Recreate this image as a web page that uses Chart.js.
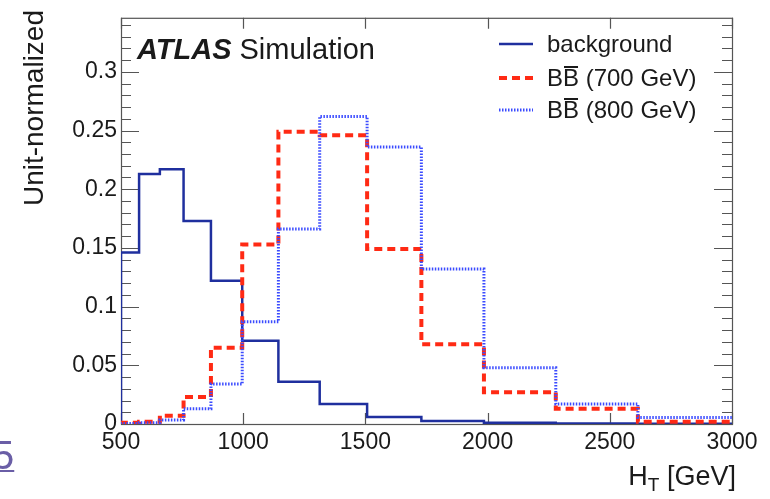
<!DOCTYPE html>
<html>
<head>
<meta charset="utf-8">
<script src="https://cdn.jsdelivr.net/npm/chart.js@4.4.1/dist/chart.umd.min.js"></script>
<style>
  html, body { margin: 0; padding: 0; background: #ffffff; }
  #wrap { position: relative; width: 770px; height: 499px; overflow: hidden; }
  #c { position: absolute; left: 0; top: 0; }
  #pg { position: absolute; left: -8px; top: 435px; font-family: "Liberation Sans", Arial, sans-serif;
        font-size: 40px; line-height: 40px; color: #6a5ea6; text-decoration: underline; text-decoration-thickness: 2px; }
</style>
</head>
<body>
<div id="wrap">
  <canvas id="c" width="770" height="499"></canvas>
  <div id="pg">5</div>
</div>
<script>
// ---- data ----
const binEdges   = [500, 574, 659, 756, 868, 996, 1144, 1313, 1507, 1729, 1985, 2279, 2615, 3000];
const background = [0.146, 0.213, 0.217, 0.173, 0.122, 0.071, 0.036, 0.017, 0.006, 0.0025, 0.001, 0.0005, 0.0002];
const bb700      = [0.001, 0.002, 0.007, 0.023, 0.065, 0.153, 0.249, 0.246, 0.149, 0.068, 0.027, 0.013, 0.002];
const bb800      = [0.0005, 0.001, 0.0035, 0.013, 0.034, 0.087, 0.166, 0.262, 0.236, 0.132, 0.048, 0.017, 0.0055];
const xTicks     = [500, 1000, 1500, 2000, 2500, 3000];
const yMajorStep = 0.05;
const yMinorStep = 0.01;
const seriesNames = ["background", "700 GeV", "800 GeV"];

const FONT = '"Liberation Sans", Arial, Helvetica, sans-serif';
const COL_BG = '#1f2f9e';
const COL_700 = '#ff2a14';
const COL_800 = '#3a4bff';

function histPoints(vals) {
  const pts = [{ x: binEdges[0], y: 0 }];
  vals.forEach((v, i) => pts.push({ x: binEdges[i], y: v }));
  pts.push({ x: binEdges[binEdges.length - 1], y: vals[vals.length - 1] });
  return pts;
}

const framePlugin = {
  id: 'frame',
  beforeDatasetsDraw(chart) {
    const { ctx, chartArea: a, scales } = chart;
    ctx.save();
    ctx.strokeStyle = '#555555';
    ctx.lineWidth = 1.2;
    const ys = scales.y;
    for (let k = 0; k * yMinorStep <= ys.max + 1e-9; k++) {
      const v = k * yMinorStep;
      const py = Math.round(ys.getPixelForValue(v)) + 0.5;
      const major = (k % Math.round(yMajorStep / yMinorStep)) === 0;
      const len = major ? 18 : 10;
      ctx.beginPath();
      ctx.moveTo(a.left, py); ctx.lineTo(a.left + len, py);
      ctx.moveTo(a.right, py); ctx.lineTo(a.right - len, py);
      ctx.stroke();
    }
    const xs = scales.x;
    xTicks.forEach(t => {
      const px = Math.round(xs.getPixelForValue(t)) + 0.5;
      ctx.beginPath();
      ctx.moveTo(px, a.bottom); ctx.lineTo(px, a.bottom - 11);
      ctx.moveTo(px, a.top); ctx.lineTo(px, a.top + 11);
      ctx.stroke();
    });
    ctx.strokeRect(a.left + 0.5, a.top + 0.5, a.right - a.left, a.bottom - a.top);
    ctx.restore();
  },
  afterDraw(chart) {
    const { ctx } = chart;
    ctx.save();
    ctx.fillStyle = '#1a1a1a';
    ctx.textBaseline = 'alphabetic';
    ctx.textAlign = 'left';
    ctx.font = 'italic bold 29px ' + FONT;
    ctx.fillText('ATLAS', 137, 59);
    const w = ctx.measureText('ATLAS').width;
    ctx.font = '29px ' + FONT;
    ctx.fillText('Simulation', 137 + w + 8, 59);

    ctx.save();
    ctx.translate(43, 10);
    ctx.rotate(-Math.PI / 2);
    ctx.textAlign = 'right';
    ctx.font = '28px ' + FONT;
    ctx.fillText('Unit-normalized', 0, 0);
    ctx.restore();

    const big = '27px ' + FONT, small = '19px ' + FONT;
    ctx.font = big; const wH = ctx.measureText('H').width; const wG = ctx.measureText(' [GeV]').width;
    ctx.font = small; const wT = ctx.measureText('T').width;
    const x0 = 736 - (wH + wT + wG);
    const by = 485;
    ctx.font = big; ctx.fillText('H', x0, by);
    ctx.font = small; ctx.fillText('T', x0 + wH, by + 6);
    ctx.font = big; ctx.fillText(' [GeV]', x0 + wH + wT, by);

    const rows = [
      { y: 44, color: COL_BG, dash: [], width: 2.5, label: seriesNames[0], bb: false },
      { y: 78, color: COL_700, dash: [8, 5], width: 4, label: ' (' + seriesNames[1] + ')', bb: true },
      { y: 110, color: COL_800, dash: [1.5, 1.5], width: 3, label: ' (' + seriesNames[2] + ')', bb: true }
    ];
    ctx.font = '24px ' + FONT;
    ctx.textBaseline = 'middle';
    rows.forEach(r => {
      ctx.save();
      ctx.strokeStyle = r.color; ctx.lineWidth = r.width; ctx.setLineDash(r.dash);
      ctx.beginPath(); ctx.moveTo(499, r.y); ctx.lineTo(533, r.y); ctx.stroke();
      ctx.restore();
      let tx = 547;
      if (r.bb) {
        const wb = ctx.measureText('B').width;
        ctx.fillText('B', tx, r.y + 1);
        ctx.fillText('B', tx + wb, r.y + 1);
        ctx.fillRect(tx + wb + 1, r.y - 12, wb - 2, 2);
        tx += 2 * wb;
      }
      ctx.fillText(r.label, tx, r.y + 1);
    });
    ctx.restore();
  }
};

new Chart(document.getElementById('c').getContext('2d'), {
  type: 'line',
  data: {
    datasets: [
      { label: seriesNames[0], data: histPoints(background), borderColor: COL_BG, borderWidth: 2.5, stepped: true, pointRadius: 0, fill: false, order: 3 },
      { label: seriesNames[1], data: histPoints(bb700), borderColor: COL_700, borderWidth: 4, borderDash: [8, 5], stepped: true, pointRadius: 0, fill: false, order: 2 },
      { label: seriesNames[2], data: histPoints(bb800), borderColor: COL_800, borderWidth: 3, borderDash: [1.5, 1.5], stepped: true, pointRadius: 0, fill: false, order: 1 }
    ]
  },
  options: {
    responsive: false,
    devicePixelRatio: 1,
    animation: false,
    events: [],
    layout: { padding: { top: 12, right: 38, left: 0, bottom: 0 } },
    plugins: { legend: { display: false }, tooltip: { enabled: false }, title: { display: false } },
    scales: {
      x: {
        type: 'linear', min: xTicks[0], max: xTicks[xTicks.length - 1],
        grid: { display: false, drawTicks: false },
        border: { display: false },
        afterFit: s => { s.height = 75; },
        afterBuildTicks: s => { s.ticks = xTicks.map(v => ({ value: v })); },
        ticks: { font: { family: FONT, size: 23 }, color: '#1a1a1a', padding: 5, maxRotation: 0, autoSkip: false,
                 callback: v => String(v) }
      },
      y: {
        type: 'linear', min: 0, max: 0.346,
        grid: { display: false, drawTicks: false },
        border: { display: false },
        afterFit: s => { s.width = 121; },
        ticks: {
          stepSize: yMajorStep,
          font: { family: FONT, size: 23 }, color: '#1a1a1a', padding: 4,
          callback: v => (Math.abs(v / yMajorStep - Math.round(v / yMajorStep)) < 1e-6 ? String(+v.toFixed(2)) : '')
        }
      }
    }
  },
  plugins: [framePlugin]
});
</script>
</body>
</html>
